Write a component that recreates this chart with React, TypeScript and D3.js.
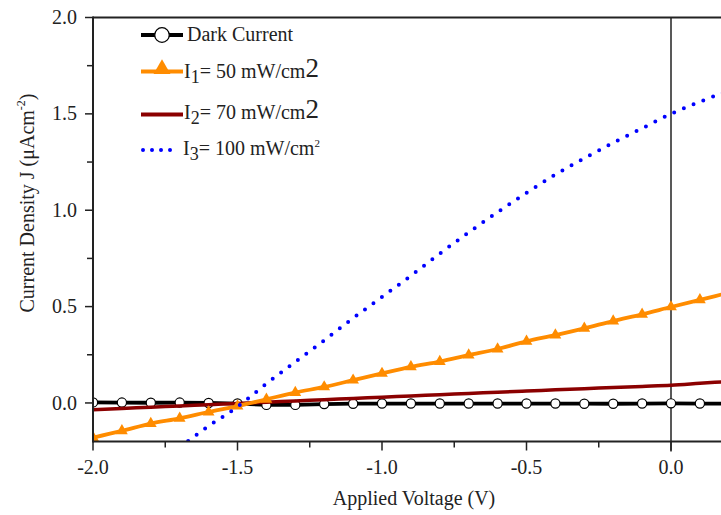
import React from 'react';
import * as d3 from 'd3';

const voltage = [-2.0, -1.9, -1.8, -1.7, -1.6, -1.5, -1.4, -1.3, -1.2, -1.1, -1.0, -0.9, -0.8, -0.7, -0.6, -0.5, -0.4, -0.3, -0.2, -0.1, 0.0, 0.1, 0.2];
const darkCurrent = [0.003, 0.002, 0.001, 0.002, 0.0, -0.003, -0.010, -0.010, -0.006, -0.004, -0.003, -0.003, -0.003, -0.003, -0.003, -0.003, -0.003, -0.004, -0.004, -0.003, -0.002, -0.003, -0.003];
const i1Current = [-0.18, -0.145, -0.107, -0.08, -0.047, -0.016, 0.019, 0.054, 0.083, 0.118, 0.153, 0.187, 0.215, 0.248, 0.28, 0.32, 0.352, 0.387, 0.425, 0.46, 0.498, 0.535, 0.572];
const i2Current = [-0.035, -0.029, -0.022, -0.016, -0.009, -0.003, 0.004, 0.01, 0.017, 0.023, 0.03, 0.036, 0.043, 0.049, 0.056, 0.062, 0.068, 0.074, 0.08, 0.086, 0.092, 0.102, 0.112];
const i3Voltage = [-1.7, -1.6, -1.5, -1.4, -1.3, -1.2, -1.1, -1.0, -0.9, -0.8, -0.7, -0.6, -0.5, -0.4, -0.3, -0.2, -0.1, 0.0, 0.1, 0.2];
const i3Current = [-0.23, -0.12, -0.02, 0.10, 0.213, 0.325, 0.44, 0.55, 0.66, 0.775, 0.885, 0.99, 1.09, 1.185, 1.27, 1.35, 1.425, 1.50, 1.563, 1.62];

const xMajorTicks = [-2.0, -1.5, -1.0, -0.5, 0.0];
const xMinorTicks = [-1.75, -1.25, -0.75, -0.25];
const yMajorTicks = [0.0, 0.5, 1.0, 1.5, 2.0];
const yMinorTicks = [0.25, 0.75, 1.25, 1.75];

const FONT = '"Liberation Serif", "Times New Roman", serif';

export default function App() {
  const W = 721, H = 515;
  const left = 93, right = 728.8, top = 17.5, bottom = 441.5;
  const x = d3.scaleLinear().domain([-2.0, 0.2]).range([left, right]);
  const y = d3.scaleLinear().domain([-0.2, 2.0]).range([bottom, top]);

  const pts = (xs: number[], ys: number[]) => xs.map((v, i) => [v, ys[i]] as [number, number]);
  const linear = d3.line<[number, number]>().x(d => x(d[0])).y(d => y(d[1]));
  const smooth = d3.line<[number, number]>().x(d => x(d[0])).y(d => y(d[1])).curve(d3.curveMonotoneX);

  const darkPts = pts(voltage, darkCurrent);
  const i1Pts = pts(voltage, i1Current);
  const i2Pts = pts(voltage, i2Current);
  const i3Pts = pts(i3Voltage, i3Current);

  const triSmall = d3.symbol().type(d3.symbolTriangle).size(60)()!;
  const triLegend = d3.symbol().type(d3.symbolTriangle).size(125)()!;

  const fs = 20;

  return (
    <svg width={W} height={H} style={{ position: 'absolute', left: 0, top: 0, background: '#fff' }} fontFamily={FONT}>
      <rect x={0} y={0} width={W} height={H} fill="#fff" />
      <defs>
        <clipPath id="plotClip">
          <rect x={left} y={top} width={right - left} height={bottom - top} />
        </clipPath>
      </defs>

      {/* zero vertical line */}
      <line x1={x(0)} x2={x(0)} y1={top} y2={bottom + 10} stroke="#222" strokeWidth={1.5} />

      {/* series */}
      <g clipPath="url(#plotClip)">
        <path d={linear(darkPts)!} fill="none" stroke="#000" strokeWidth={3.8} />
        {darkPts.map((d, i) => (
          <circle key={'c' + i} cx={x(d[0])} cy={y(d[1])} r={4.6} fill="#fff" stroke="#000" strokeWidth={1.2} />
        ))}
        <path d={smooth(i2Pts)!} fill="none" stroke="#8b0000" strokeWidth={3.5} />
        <path d={smooth(i1Pts)!} fill="none" stroke="#ff8c00" strokeWidth={3.8} />
        {i1Pts.map((d, i) => (
          <path key={'t' + i} d={triSmall} transform={`translate(${x(d[0])},${y(d[1])})`} fill="#ff8c00" />
        ))}
        <path d={smooth(i3Pts)!} fill="none" stroke="#0000ff" strokeWidth={4} strokeDasharray="0 10.5" strokeLinecap="round" />
      </g>

      {/* axes */}
      <line x1={left} x2={W} y1={top} y2={top} stroke="#222" strokeWidth={2} />
      <line x1={left} x2={W} y1={bottom} y2={bottom} stroke="#222" strokeWidth={2} />
      <line x1={left} x2={left} y1={top - 1} y2={bottom + 1} stroke="#222" strokeWidth={2} />

      {xMajorTicks.map(t => (
        <g key={'xm' + t}>
          <line x1={x(t)} x2={x(t)} y1={bottom} y2={bottom + 9} stroke="#222" strokeWidth={1.5} />
          <text x={x(t)} y={474} textAnchor="middle" fontSize={fs} fill="#222">{t.toFixed(1)}</text>
        </g>
      ))}
      {xMinorTicks.map(t => (
        <line key={'xn' + t} x1={x(t)} x2={x(t)} y1={bottom} y2={bottom + 6} stroke="#222" strokeWidth={1.5} />
      ))}
      {yMajorTicks.map(t => (
        <g key={'ym' + t}>
          <line x1={left - 8} x2={left} y1={y(t)} y2={y(t)} stroke="#222" strokeWidth={1.5} />
          <text x={77} y={y(t)} dy="0.33em" textAnchor="end" fontSize={fs} fill="#222">{t.toFixed(1)}</text>
        </g>
      ))}
      {yMinorTicks.map(t => (
        <line key={'yn' + t} x1={left - 6} x2={left} y1={y(t)} y2={y(t)} stroke="#222" strokeWidth={1.5} />
      ))}

      {/* axis titles */}
      <text x={414} y={505} textAnchor="middle" fontSize={fs} fill="#222">Applied Voltage (V)</text>
      <text transform="translate(34,203) rotate(-90)" textAnchor="middle" fontSize={fs} fill="#222">
        Current Density J (μAcm<tspan fontSize={12} dy={-9}>-2</tspan><tspan dy={9}>)</tspan>
      </text>

      {/* legend */}
      <g>
        <line x1={141} x2={183} y1={35} y2={35} stroke="#000" strokeWidth={4} />
        <circle cx={162} cy={35} r={7.3} fill="#fff" stroke="#000" strokeWidth={1.3} />
        <text x={187} y={41} fontSize={fs} fill="#222">Dark Current</text>

        <line x1={141} x2={183} y1={71.5} y2={71.5} stroke="#ff8c00" strokeWidth={4} />
        <path d={triLegend} transform="translate(162,69)" fill="#ff8c00" />
        <text x={184} y={78} fontSize={fs} fill="#222">
          I<tspan fontSize={18} dy={5}>1</tspan><tspan dy={-5}>= 50 mW/cm</tspan><tspan fontSize={27} dy={-1}>2</tspan>
        </text>

        <line x1={141} x2={183} y1={114.5} y2={114.5} stroke="#8b0000" strokeWidth={4} />
        <text x={184} y={118.5} fontSize={fs} fill="#222">
          I<tspan fontSize={18} dy={5}>2</tspan><tspan dy={-5}>= 70 mW/cm</tspan><tspan fontSize={27} dy={-1}>2</tspan>
        </text>

        <line x1={143} x2={179} y1={150} y2={150} stroke="#0000ff" strokeWidth={4} strokeDasharray="0 9" strokeLinecap="round" />
        <text x={183} y={155} fontSize={fs} fill="#222">
          I<tspan fontSize={18} dy={5}>3</tspan><tspan dy={-5}>= 100 mW/cm</tspan><tspan fontSize={11} dy={-8}>2</tspan>
        </text>
      </g>
    </svg>
  );
}
